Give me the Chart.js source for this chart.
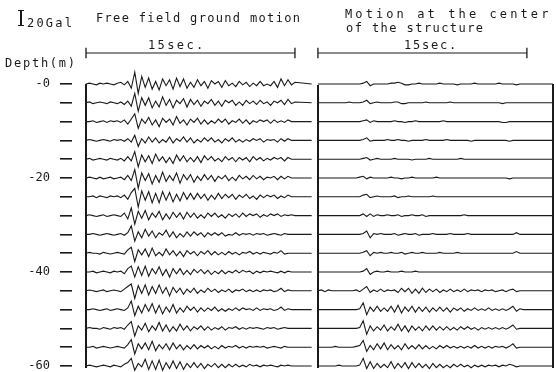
<!DOCTYPE html>
<html>
<head>
<meta charset="utf-8">
<script src="https://cdn.jsdelivr.net/npm/chart.js@4.4.1/dist/chart.umd.min.js"></script>
<style>
  body { margin: 0; background: #fff; }
  #wrap { position: relative; width: 556px; height: 372px; }
  #c { position: absolute; left: 0; top: 0; }
  .lbl {
    position: absolute; font-family: 'DejaVu Sans Mono', monospace; font-size: 12px;
    color: #1a1a1a; white-space: pre; line-height: 1;
  }
  .bar { position: absolute; background: #1a1a1a; }
  .frame { position: absolute; width: 1.5px; background: #1a1a1a; }
</style>
</head>
<body>
<div id="wrap">
  <canvas id="c" width="556" height="372"></canvas>
  <!-- 20 Gal scale glyph -->
  <div class="bar" style="left:20px;top:10px;width:1.5px;height:16px"></div>
  <div class="bar" style="left:18px;top:10px;width:6px;height:1px"></div>
  <div class="bar" style="left:18px;top:25px;width:6px;height:1px"></div>
  <div class="lbl" style="left:27px;top:17px;letter-spacing:2.2px">20Gal</div>
  <div class="lbl" style="left:96px;top:12px;letter-spacing:1.33px">Free field ground motion</div>
  <div class="lbl" style="left:345px;top:8px;letter-spacing:3.1px">Motion at the center</div>
  <div class="lbl" style="left:346px;top:22px;letter-spacing:1.43px">of the structure</div>
  <div class="lbl" style="left:148px;top:39px;letter-spacing:2.4px">15sec.</div>
  <div class="lbl" style="left:404px;top:39px;letter-spacing:1.8px">15sec.</div>
  <div class="lbl" style="left:5px;top:57px;letter-spacing:1.75px">Depth(m)</div>
</div>
<script>
// ── Layout constants (px <-> data units) ─────────────
const SEC_PX = 13.93;      // px per second
const M_PX = 4.7;          // px per metre of depth
const GAL_PX = 0.85;       // trace amplitude, px per Gal
const T_STEP = 0.25;       // sample step of the traces, s
const RIGHT_T0 = 16.65;    // time origin of the right panel
const LEFT_TAIL = 16.2;
const RIGHT_TAIL = 33.52;
const BAR_Y = -6.6;        // depth level of the "15sec." bars
const BAR_SEC = 15;

// ── Data ─────────────────────────────────────────────
const DEPTHS = [0, 4, 8, 12, 16, 20, 24, 28, 32, 36, 40, 44, 48, 52, 56, 60];
const DEPTH_LABELS = [0, 20, 40, 60];

// free field ground motion, Gal, one sample per 0.25 s
const FREE_00 = [0,1,0,-1,1,0,1,0,-1,1, 2,-1,3,-5,14,-11,9,-4,7,-6, 3,-7,6,-2,5,-6,7,-3,6,-5, 2,-4,5,-2,3,-5,4,0,3,-4, 4,-2,1,-3,3,-1,2,-3,1,-2, 3,-2,0,-2,3,-4,6,-2,5,-1, 2];
const FREE_04 = [0,1,-1,0,1,0,-1,1,0,-1, 1,-2,2,-4,11,-10,6,-3,6,-6, 2,-5,7,-3,4,-6,3,-1,5,-5, 4,-2,3,-4,2,-1,4,-3,2,-4, 3,0,3,-3,1,-3,3,-1,2,-2, 3,-1,1,-3,2,0,3,-2,4,-1, 1];
const FREE_08 = [0,0,1,-1,0,1,-1,1,0,1, -1,2,-3,3,9,-8,3,-2,5,-4, 2,-6,4,-1,3,-4,6,-2,2,-4, 3,-1,4,-3,2,-3,1,-2,3,-1, 3,-3,1,-1,3,-2,2,-3,1,-1, 2,0,2,-2,2,-1,1,-1,2,0, 0];
const FREE_12 = [0,1,0,-1,0,1,0,-1,1,0, 1,-1,2,-2,6,-7,2,-3,4,-2, 3,-3,1,-2,4,-3,2,-1,4,-2, 3,-3,1,-2,3,-1,3,-2,1,-3, 2,-1,3,-2,1,-2,1,-1,2,0, 2,-2,1,0,1,-2,2,-1,2,0, 0];
const FREE_16 = [0,1,-1,0,1,0,-1,1,0,-1, 1,-2,3,-2,9,-9,5,-3,4,-5, 6,-2,3,-4,2,-5,5,-2,4,-3, 2,-3,3,-4,4,-1,3,-2,1,-3, 3,-1,2,-3,2,-1,2,-3,3,-1, 2,-2,1,-1,2,0,2,-2,2,0, 0];
const FREE_20 = [0,1,0,-1,1,-1,0,1,-1,0, 1,-2,3,-3,10,-12,6,-3,5,-7, 3,-5,7,-4,3,-3,6,-6,4,-2, 4,-5,2,-3,4,-2,3,-4,2,-1, 3,-3,1,-3,3,-1,2,-2,3,-1, 2,-2,1,0,2,-2,2,-1,2,0, 0];
const FREE_24 = [0,0,1,-1,1,0,-1,1,0,1, -1,2,-3,5,10,-12,7,-4,6,-7, 4,-7,6,-4,5,-6,3,-5,5,-3, 4,-3,4,-2,3,-4,2,-3,4,-2, 3,-1,3,-3,2,-1,3,-2,1,-3, 2,-1,2,0,2,-2,1,-1,2,0, 0];
const FREE_28 = [0,1,0,-1,0,1,-1,0,1,0, -1,3,-4,9,-10,5,-3,6,-5,3, -2,5,-5,2,-4,4,-2,3,-4,4, -2,3,-3,1,-3,3,-1,3,-2,1, -3,2,-1,2,-2,3,-1,2,0,2, -2,1,-1,2,0,2,-1,1,0,1, 0];
const FREE_32 = [0,0,1,0,-1,0,1,0,-1,0, 1,-1,2,10,-8,3,-4,6,-2,4, -4,2,-1,5,-3,3,-4,1,-3,3, -2,3,-1,2,-3,2,-1,2,-1,2, -2,0,-1,2,-1,1,0,1,-1,1, 0,1,-1,0,1,0,-1,1,0,0, 0];
const FREE_36 = [0,1,0,0,-1,1,0,-1,0,1, 0,-1,4,7,-10,4,-2,5,-4,6, -3,1,-3,5,-2,3,-3,2,-4,3, -1,2,-3,2,-1,3,-2,2,-2,1, -2,2,-1,1,-2,1,0,2,-1,1, -1,1,0,-1,1,0,3,-1,0,0, 0];
const FREE_40 = [0,0,1,-1,0,1,0,-1,1,0, 1,-2,4,7,-6,6,-4,7,-5,4, -2,6,-4,3,-6,4,-2,4,-3,2, -3,3,-1,3,-2,2,-3,1,-2,2, -2,1,-1,2,-1,2,0,1,-2,1, -1,1,0,1,0,-1,1,-1,1,0, 0];
const FREE_44 = [0,1,0,-1,0,1,-1,0,1,0, -1,2,5,8,-9,6,-3,7,-5,5, -3,7,-3,4,-6,4,-2,3,-4,2, -2,3,-3,1,-2,3,-1,2,-2,1, -1,2,-2,1,0,2,-1,1,-1,1, -1,1,0,1,-1,0,3,-1,1,0, 0];
const FREE_48 = [0,0,1,0,-1,0,1,-1,0,1, 0,-1,2,10,-7,4,-4,6,-2,7, -4,5,-5,3,-3,6,-4,2,-3,4, -1,3,-3,2,-2,2,-1,3,-2,1, -2,1,-1,2,-1,2,0,1,-1,2, -1,1,0,1,-1,0,3,-1,1,0, 0];
const FREE_52 = [0,1,0,0,-1,1,0,-1,1,0, 1,-1,4,8,-9,3,-2,6,-4,3, -2,7,-3,4,-4,2,-3,5,-2,3, -3,2,-1,3,-2,2,-2,1,-1,2, -2,1,0,2,-1,1,-1,1,0,1, 0,-1,1,0,1,-1,0,1,0,0, 0];
const FREE_56 = [0,0,1,-1,0,1,0,-1,0,1, 0,-1,3,9,-8,4,-2,5,-3,7, -4,3,-2,4,-3,5,-2,3,-3,2, -2,3,-2,2,-1,2,-2,1,-2,2, -1,1,0,2,-1,1,-1,1,0,1, 0,1,-1,0,1,0,-1,1,0,0, 0];
const FREE_60 = [0,1,0,-1,0,1,0,-1,1,0, -1,2,4,9,-5,3,-1,8,-4,6, -4,7,-5,4,-3,6,-3,5,-4,3, -2,4,-2,3,-3,2,-1,3,-2,2, -2,2,-1,2,-1,1,-1,2,0,1, -1,1,0,1,0,-1,1,0,1,0, 0];

// motion at the center of the structure, Gal, one sample per 0.25 s
const CENTER_00 = [0,0,0,0,0,0,0,0,0,0, 0,0,0,1,3,-2,0,0,0,0, 0,1,1,2,1,-1,-1,0,0,1, 0,0,0,0,0,1,0,0,0,0, -1,0,0,0,0,1,0,0,0,0, 0,0,1,0,0,0,0,-1,0,0, 0];
const CENTER_04 = [0,0,0,0,0,0,0,0,0,1, 0,0,0,1,3,-1,0,1,0,0, 0,0,1,1,-1,-1,0,0,0,0, 0,1,0,0,0,0,0,0,1,0, 0,0,0,0,0,0,0,0,0,0, 0,0,0,-1,0,0,0,0,0,0, 0];
const CENTER_08 = [0,0,0,0,0,0,0,0,0,0, 0,0,0,1,2,-1,1,0,0,0, 0,0,1,0,0,-1,0,0,1,0, 0,0,0,0,0,0,1,0,0,0, 0,0,0,0,0,0,0,0,0,0, 0,0,0,-1,-1,0,0,0,0,0, 0];
const CENTER_12 = [0,0,0,0,0,0,0,0,0,0, 0,0,0,1,3,-1,0,0,0,0, 1,0,0,1,0,0,-1,0,0,0, 0,1,0,0,0,0,0,1,0,0, 0,0,0,0,-1,0,0,0,0,0, 0,0,0,0,0,-1,0,0,0,0, 0];
const CENTER_16 = [0,0,0,0,0,0,0,0,0,0, 0,0,0,1,2,-1,0,1,0,0, 0,0,1,0,0,0,0,-1,0,0, 0,0,1,0,0,0,0,0,0,0, 0,1,0,0,0,0,0,0,0,0, 0,0,0,0,0,0,0,0,0,0, 0];
const CENTER_20 = [0,0,0,0,0,0,0,0,0,0, 0,0,1,2,-1,1,0,0,0,0, 0,1,0,0,-1,0,0,1,0,0, 0,0,0,0,1,0,0,0,0,0, 0,0,0,0,0,0,0,0,0,0, 0,0,0,0,0,-1,0,0,0,0, 0];
const CENTER_24 = [0,0,0,0,0,0,0,0,0,0, 0,0,0,2,3,-1,0,1,0,0, 0,0,1,-1,0,0,1,0,0,0, 0,0,0,1,0,0,0,0,0,0, 0,0,0,0,0,0,0,0,0,0, 0,0,0,0,0,0,0,0,0,0, 0];
const CENTER_28 = [0,0,0,0,0,0,0,0,0,0, 0,0,0,2,-1,2,-1,1,0,0, 1,0,0,1,-1,0,0,1,0,0, 1,-1,0,0,0,0,0,0,0,0, 0,0,1,0,0,0,0,0,0,0, 0,0,0,0,0,0,0,0,0,0, 0];
const CENTER_32 = [0,0,0,0,0,0,0,0,0,0, 0,0,0,1,4,-4,1,0,1,0, 0,0,1,-1,0,1,0,0,1,-1, 0,0,0,1,0,0,0,0,1,0, 0,0,0,1,0,0,0,0,0,0, 0,0,0,0,0,0,0,2,0,0, 0];
const CENTER_36 = [0,0,0,0,0,0,0,0,0,0, 0,0,0,1,3,-3,1,0,1,0, 0,1,0,0,1,-1,0,1,0,0, 1,0,0,0,0,1,0,0,0,0, 1,0,0,0,0,0,0,0,0,0, 0,0,0,0,0,0,0,2,0,0, 0];
const CENTER_40 = [0,0,0,0,0,0,0,0,0,0, 0,0,0,1,4,-3,0,1,0,0, 1,0,0,0,1,0,0,0,1,0, 0,0,0,0,0,0,0,0,0,0, 0,0,0,0,0,0,0,0,0,0, 0,0,0,0,0,0,0,0,0,0, 0];
const CENTER_44 = [0,1,-1,1,0,0,0,0,0,0, 0,1,-1,2,5,-2,1,-1,2,-1, 1,0,1,-2,3,-1,3,-3,2,-3, 3,-2,2,-1,2,-2,1,-1,2,-1, 1,-1,2,-1,1,0,1,-1,1,0, 1,-1,0,1,-1,1,2,-1,0,0, 0];
const CENTER_48 = [0,0,0,0,0,0,0,0,0,0, 0,0,1,8,-6,3,-2,4,-2,2, -2,4,-3,5,-4,3,-2,4,-3,3, -2,3,-3,2,-2,3,-2,2,-3,2, -1,2,-2,1,-1,2,-1,1,-1,2, -1,1,-1,1,-1,1,4,-2,1,0, 0];
const CENTER_52 = [0,0,0,0,0,0,0,0,0,0, 0,0,1,9,-7,3,-3,2,-2,4, -3,2,-2,5,-3,3,-4,3,-2,2, -3,3,-2,3,-2,2,-2,2,-2,1, -2,2,-1,2,-1,1,-2,1,-1,1, -1,1,-1,1,-1,1,4,-1,0,0, 0];
const CENTER_56 = [0,0,0,0,0,1,0,0,0,0, 0,1,2,8,-5,2,-3,4,-2,5, -3,3,-2,2,-3,4,-2,2,-2,3, -2,2,-2,1,-2,2,-1,2,-1,1, -1,1,-1,1,-1,2,-1,1,-1,1, -1,1,0,1,-1,1,4,-1,0,0, 0];
const CENTER_60 = [0,0,0,0,0,0,1,0,0,0, 0,0,1,9,-3,5,-3,3,-2,2, -2,5,-3,3,-2,4,-3,4,-2,3, -2,2,-3,3,-2,2,-2,1,-2,2, -1,2,-1,1,-2,1,-1,1,-1,1, 0,1,-1,1,0,2,1,-1,0,0, 0];

const FREE_TRACES = [FREE_00, FREE_04, FREE_08, FREE_12, FREE_16, FREE_20, FREE_24, FREE_28,
  FREE_32, FREE_36, FREE_40, FREE_44, FREE_48, FREE_52, FREE_56, FREE_60];
const CENTER_TRACES = [CENTER_00, CENTER_04, CENTER_08, CENTER_12, CENTER_16, CENTER_20, CENTER_24, CENTER_28,
  CENTER_32, CENTER_36, CENTER_40, CENTER_44, CENTER_48, CENTER_52, CENTER_56, CENTER_60];

// ── Helpers ──────────────────────────────────────────
const INK = '#1a1a1a';

function traceData(depth, values, t0, tEnd) {
  const pts = values.map((v, i) => ({ x: t0 + i * T_STEP, y: depth - v * GAL_PX / M_PX }));
  pts.push({ x: tEnd, y: depth });
  return pts;
}

function lineSet(data, width) {
  return { data, borderColor: INK, borderWidth: width, pointRadius: 0, tension: 0, fill: false };
}

// ── Build datasets ───────────────────────────────────
const datasets = [];
const frameBottom = DEPTHS[DEPTHS.length - 1] + 0.5;
const FRAMES = [[0, 0], [RIGHT_T0, 0.2], [RIGHT_TAIL, 0]];   // [time, top depth]

// "15sec." bars
[0, RIGHT_T0].forEach(t0 => {
  datasets.push(lineSet([{ x: t0, y: BAR_Y }, { x: t0 + BAR_SEC, y: BAR_Y }], 1.1));
  datasets.push(lineSet([{ x: t0, y: BAR_Y - 1.1 }, { x: t0, y: BAR_Y + 1.1 }], 1.3));
  datasets.push(lineSet([{ x: t0 + BAR_SEC, y: BAR_Y - 1.1 }, { x: t0 + BAR_SEC, y: BAR_Y + 1.1 }], 1.3));
});

DEPTHS.forEach((d, i) => {
  datasets.push(lineSet(traceData(d, FREE_TRACES[i], 0, LEFT_TAIL), 1.1));
  datasets.push(lineSet(traceData(d, CENTER_TRACES[i], RIGHT_T0, RIGHT_TAIL), 1.1));
});

// panel frame verticals: placed from the chart's own scales once it has laid out
const framePlugin = {
  id: 'frames',
  afterRender(chart) {
    const { x, y } = chart.scales;
    const wrap = document.getElementById('wrap');
    wrap.querySelectorAll('.frame').forEach(el => el.remove());
    FRAMES.forEach(([t, top]) => {
      const el = document.createElement('div');
      el.className = 'frame';
      const top_px = y.getPixelForValue(top);
      el.style.left = (x.getPixelForValue(t) - 0.75) + 'px';
      el.style.top = top_px + 'px';
      el.style.height = (y.getPixelForValue(frameBottom) - top_px) + 'px';
      wrap.appendChild(el);
    });
  },
};

// ── Chart ────────────────────────────────────────────
const AXIS_W = 72;
const xMin = -(86 - AXIS_W) / SEC_PX;
const xMax = xMin + (556 - AXIS_W) / SEC_PX;
const yMin = -84 / M_PX;
const yMax = yMin + 372 / M_PX;

new Chart(document.getElementById('c'), {
  type: 'line',
  data: { datasets },
  plugins: [framePlugin],
  options: {
    responsive: false,
    animation: false,
    layout: { padding: 0, autoPadding: false },
    plugins: { legend: { display: false }, tooltip: { enabled: false } },
    scales: {
      x: { type: 'linear', display: false, min: xMin, max: xMax },
      y: {
        type: 'linear', reverse: true, min: yMin, max: yMax,
        afterFit: s => { s.width = AXIS_W; s.paddingTop = 0; s.paddingBottom = 0; },
        afterBuildTicks: s => { s.ticks = DEPTHS.map(v => ({ value: v })); },
        border: { display: false },
        grid: { drawOnChartArea: false, tickLength: 12, color: INK, lineWidth: 1.6 },
        ticks: {
          autoSkip: false, padding: 10, color: INK,
          font: { family: "'DejaVu Sans Mono', monospace", size: 12 },
          callback: v => (DEPTH_LABELS.includes(v) ? '-' + v : ''),
        },
      },
    },
  },
});
</script>
</body>
</html>
